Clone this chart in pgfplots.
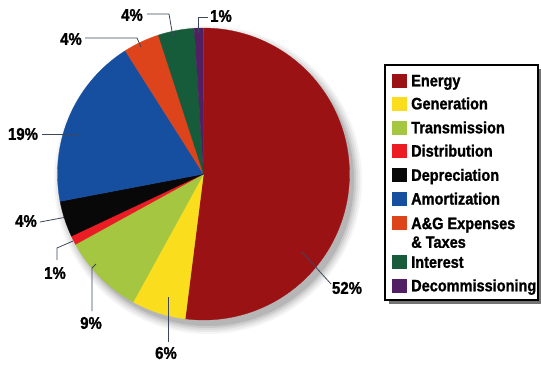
\documentclass[border=0pt]{standalone}
\usepackage{fontspec}
\setmainfont{Liberation Sans}[FakeStretch=0.88, BoldFeatures={FakeBold=1.2}]
\usepackage{pgfplots}
\usepackage{pgfplotstable}
\pgfplotsset{compat=1.18}

\definecolor{cEnergy}{RGB}{155,18,20}
\definecolor{cGeneration}{RGB}{250,222,30}
\definecolor{cTransmission}{RGB}{165,198,64}
\definecolor{cDistribution}{RGB}{236,28,36}
\definecolor{cDepreciation}{RGB}{8,8,8}
\definecolor{cAmortization}{RGB}{22,78,160}
\definecolor{cAG}{RGB}{222,68,28}
\definecolor{cInterest}{RGB}{22,92,58}
\definecolor{cDecom}{RGB}{82,30,100}
\definecolor{leader}{RGB}{60,70,92}

% share of each cost component, in percent, clockwise from the top
\pgfplotstableread{
name            value colour
Energy          52    cEnergy
Generation      6     cGeneration
Transmission    9     cTransmission
Distribution    1     cDistribution
Depreciation    4     cDepreciation
Amortization    19    cAmortization
AGExpenses      4     cAG
Interest        4     cInterest
Decommissioning 1     cDecom
}\piedata

% pie centre and radius (axis units = 1pt)
\def\cx{203.5}
\def\cy{174}
\def\rr{146}

% one wedge from cumulative percent #1 to #2, clockwise from 12 o'clock
\newcommand\pieslice[3]{%
  \fill[#3, draw=#3, line width=0.3pt] (axis cs:\cx,\cy) --
    plot[domain=#1:#2, samples=90, variable=\t]
    (axis cs:{\cx+\rr*sin(3.6*\t)},{\cy-\rr*cos(3.6*\t)}) -- cycle;}

\newcommand\pct[1]{\fontsize{17}{19}\selectfont\bfseries #1}
\newcommand\legfont{\fontsize{16.5}{19}\selectfont\bfseries}

\begin{document}
\begin{tikzpicture}
\begin{axis}[
  x=1pt, y=1pt,
  xmin=0, xmax=541, ymin=0, ymax=365,
  y dir=reverse,
  hide axis, scale only axis, clip=false,
]
\path (axis cs:0,0) (axis cs:541,365);

% soft drop shadow under the pie
\fill[black, opacity=0.10] (axis cs:208,180) circle[radius=146pt];
\fill[black, opacity=0.08] (axis cs:208,180) circle[radius=148pt];
\fill[black, opacity=0.06] (axis cs:208,180) circle[radius=150pt];
\fill[black, opacity=0.05] (axis cs:208,180) circle[radius=152pt];
\fill[black, opacity=0.04] (axis cs:208,180) circle[radius=154pt];

% wedges, from the cumulative shares
\gdef\cumshare{0}
\pgfplotsinvokeforeach{0,...,8}{%
  \pgfplotstablegetelem{#1}{value}\of\piedata \let\sliceval\pgfplotsretval
  \pgfplotstablegetelem{#1}{colour}\of\piedata \let\slicecol\pgfplotsretval
  \pgfmathsetmacro\sliceA{\cumshare}%
  \pgfmathsetmacro\sliceB{\cumshare+\sliceval}%
  \xdef\cumshare{\sliceB}%
  \edef\slicecmd{\noexpand\pieslice{\sliceA}{\sliceB}{\slicecol}}\slicecmd
}

% leader lines and percentage labels
\draw[leader, line width=0.8pt] (axis cs:302,252) -- (axis cs:331,284);
\node[inner sep=0pt] at (axis cs:347,288) {\pct{52\%}};

\draw[leader, line width=0.8pt] (axis cs:168,297) -- (axis cs:168,342);
\node[inner sep=0pt] at (axis cs:166,353) {\pct{6\%}};

\draw[leader, line width=0.8pt] (axis cs:96,264) -- (axis cs:92,268) -- (axis cs:92,311);
\node[inner sep=0pt] at (axis cs:91,323) {\pct{9\%}};

\draw[leader, line width=0.8pt] (axis cs:73,241) -- (axis cs:57,248) -- (axis cs:57,260);
\node[inner sep=0pt] at (axis cs:55,273) {\pct{1\%}};

\draw[leader, line width=0.8pt] (axis cs:40,222) -- (axis cs:64,217.5);
\node[inner sep=0pt] at (axis cs:26,221) {\pct{4\%}};

\draw[leader, line width=0.8pt] (axis cs:42,134.5) -- (axis cs:80,134.5);
\node[inner sep=0pt] at (axis cs:23,134) {\pct{19\%}};

\draw[leader, line width=0.8pt] (axis cs:85,38) -- (axis cs:137,38) -- (axis cs:141,47);
\node[inner sep=0pt] at (axis cs:71,39) {\pct{4\%}};

\draw[leader, line width=0.8pt] (axis cs:147,14) -- (axis cs:169,14) -- (axis cs:173,37);
\node[inner sep=0pt] at (axis cs:132,15) {\pct{4\%}};

\draw[leader, line width=0.8pt] (axis cs:208,17) -- (axis cs:198.5,17) -- (axis cs:198.5,33);
\node[inner sep=0pt] at (axis cs:221,16) {\pct{1\%}};

% legend box
\fill[black!55] (axis cs:389,69) rectangle (axis cs:541,304);
\filldraw[fill=white, draw=black, line width=1.3pt] (axis cs:385,65) rectangle (axis cs:538,300);

\newcommand\legendkey[3]{%
  \fill[#2] (axis cs:392,#1-7) rectangle (axis cs:407,#1+7);
  \node[anchor=base west, inner sep=0pt] at (axis cs:411,#1+5.8) {\legfont #3};}
\legendkey{80.5}{cEnergy}{Energy}
\legendkey{103.5}{cGeneration}{Generation}
\legendkey{127.5}{cTransmission}{Transmission}
\legendkey{150.8}{cDistribution}{Distribution}
\legendkey{175}{cDepreciation}{Depreciation}
\legendkey{198.7}{cAmortization}{Amortization}
\legendkey{223.3}{cAG}{A\&G Expenses}
\node[anchor=base west, inner sep=0pt] at (axis cs:411,247.8) {\legfont \& Taxes};
\legendkey{262}{cInterest}{Interest}
\legendkey{285.5}{cDecom}{Decommissioning}
\end{axis}
\end{tikzpicture}
\end{document}
